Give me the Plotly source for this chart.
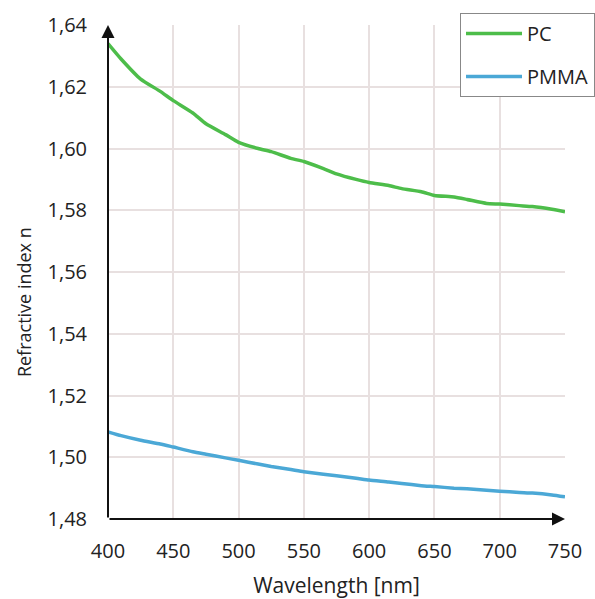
import plotly.graph_objects as go

wavelength = [400, 410, 425, 440, 450, 465, 475, 490, 500, 515, 525, 540, 550, 565, 575, 590, 600, 615, 625, 640, 650, 665, 675, 690, 700, 715, 725, 740, 750]
pc = [1.6340, 1.6290, 1.6225, 1.6185, 1.6155, 1.6115, 1.6080, 1.6045, 1.6020, 1.6000, 1.5990, 1.5968, 1.5958, 1.5935, 1.5918, 1.5900, 1.5890, 1.5880, 1.5870, 1.5860, 1.5848, 1.5843, 1.5835, 1.5822, 1.5820, 1.5815, 1.5812, 1.5803, 1.5795]
pmma = [1.5082, 1.5070, 1.5055, 1.5043, 1.5033, 1.5018, 1.5010, 1.4998, 1.4990, 1.4978, 1.4970, 1.4960, 1.4953, 1.4945, 1.4940, 1.4932, 1.4926, 1.4920, 1.4915, 1.4908, 1.4905, 1.4900, 1.4898, 1.4893, 1.4890, 1.4886, 1.4884, 1.4878, 1.4872]

x_ticks = [400, 450, 500, 550, 600, 650, 700, 750]
y_ticks = [1.48, 1.50, 1.52, 1.54, 1.56, 1.58, 1.60, 1.62, 1.64]
y_labels = [f"{v:.2f}".replace(".", ",") for v in y_ticks]
x_title = "Wavelength [nm]"
y_title = "Refractive index n"

fig = go.Figure()
fig.add_trace(go.Scatter(x=wavelength, y=pc, mode="lines", name="PC", legendgroup="pc",
                         line=dict(color="#4DBD4A", width=3.5, shape="spline", smoothing=0.5)))
fig.add_trace(go.Scatter(x=wavelength, y=pmma, mode="lines", name="PMMA", legendgroup="pmma",
                         line=dict(color="#4BA8D6", width=3.5, shape="spline", smoothing=0.5)))

fig.update_layout(
    width=595, height=599,
    margin=dict(l=108, r=30, t=25, b=80, autoexpand=False),
    paper_bgcolor="white", plot_bgcolor="white",
    font=dict(family="Open Sans", size=20, color="#222222"),
    showlegend=True,
    legend=dict(xref="container", yref="container", x=1.0, y=1 - 13 / 599,
                xanchor="right", yanchor="top",
                bordercolor="#888888", borderwidth=1, bgcolor="white",
                font=dict(size=20), itemwidth=56, tracegroupgap=14),
    xaxis=dict(range=[400, 750], tickvals=x_ticks, ticktext=[str(v) for v in x_ticks],
               showgrid=True, gridcolor="#e8e0e0", gridwidth=1.5,
               zeroline=False, showline=False, ticks="", ticklabelstandoff=18,
               tickfont=dict(size=20),
               title=dict(text=x_title, font=dict(size=21), standoff=16)),
    yaxis=dict(range=[1.48, 1.64], tickvals=y_ticks, ticktext=y_labels,
               showgrid=True, gridcolor="#e8e0e0", gridwidth=1.5,
               zeroline=False, showline=False, ticks="", ticklabelstandoff=20,
               tickfont=dict(size=20)),
)

# y-axis title as rotated text, slightly below the plot centre as in the reference
fig.add_annotation(text=y_title, xref="paper", yref="paper", x=-0.185, y=0.44,
                   xanchor="center", yanchor="middle", textangle=-90, showarrow=False,
                   font=dict(size=18, color="#222222"))

# axis arrows
fig.add_annotation(x=750, y=1.48, ax=400, ay=1.48, xref="x", yref="y", axref="x", ayref="y",
                   showarrow=True, arrowhead=2, arrowsize=1.3, arrowwidth=2, arrowcolor="#111111", text="")
fig.add_annotation(x=400, y=1.64, ax=400, ay=1.48, xref="x", yref="y", axref="x", ayref="y",
                   showarrow=True, arrowhead=2, arrowsize=1.3, arrowwidth=2, arrowcolor="#111111", text="")

fig.write_html("out.html")
